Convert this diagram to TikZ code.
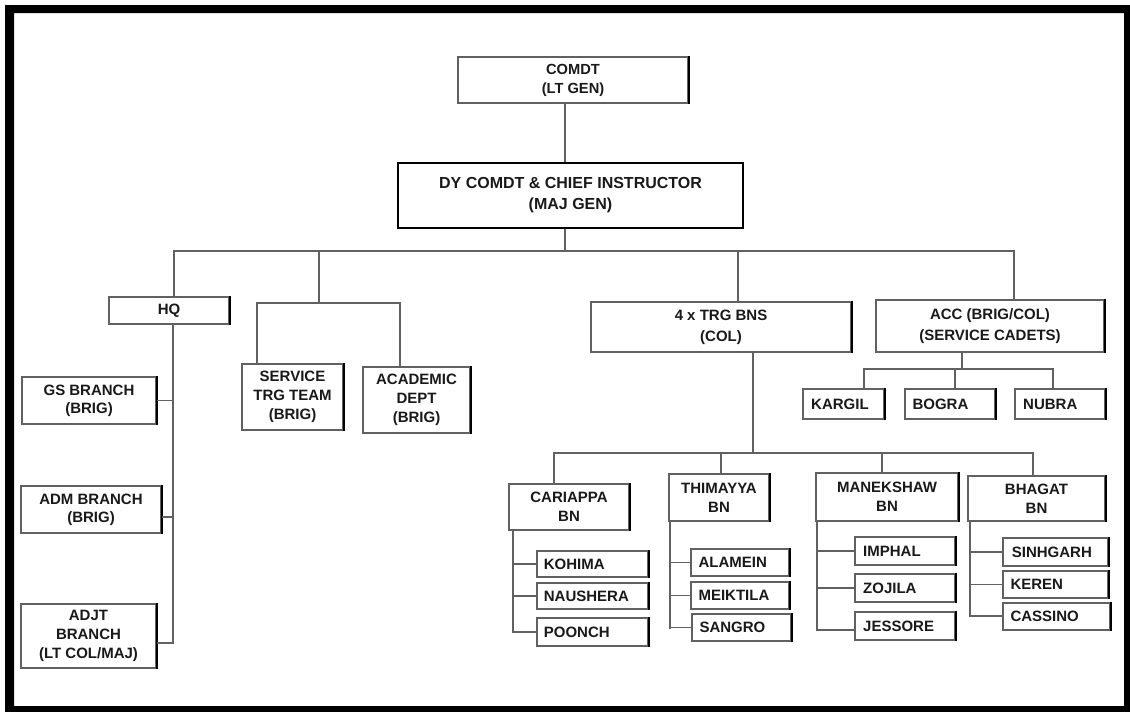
\documentclass[tikz,border=0pt]{standalone}
\usepackage{fontspec}
\setmainfont{Liberation Sans}
\usetikzlibrary{fit}
\begin{document}
\begin{tikzpicture}[x=0.75pt,y=-0.75pt,
  box/.style={draw=black!62, line width=1.1pt, inner sep=0pt},
  bigbox/.style={box, draw=black, line width=1.7pt},
  txt/.style={inner sep=0pt, align=center, text=black!90,
    font=\fontsize{11.25}{14.25}\selectfont\bfseries},
  widetxt/.style={txt, font=\fontsize{11.25}{15.75}\selectfont\bfseries},
  bigtxt/.style={txt, font=\fontsize{12}{15.75}\selectfont\bfseries},
  toptxt/.style={txt, font=\fontsize{11}{14.25}\selectfont\bfseries},
  tighttxt/.style={txt, font=\fontsize{11.25}{13.5}\selectfont\bfseries},
  lbl/.style={inner sep=0pt, anchor=west, text=black!90, font=\fontsize{11.25}{14.25}\selectfont\bfseries},
  conn/.style={draw=black!62, line width=1.1pt},
  shadeline/.style={draw=black, line width=1.7pt}]
\useasboundingbox (0,0) rectangle (1130,711);
% outer frame
\fill[black, even odd rule] (5,5) rectangle (1140,720) (14,13) rectangle (1124,706);

% boxes
\node[box, fit={(458,57) (688,103)}] (comdt) {};
\node[bigbox, fit={(398,163) (743,228)}] (dy) {};
\node[box, fit={(109,297) (229,324)}] (hq) {};
\node[box, fit={(22,377) (156,424)}] (gs) {};
\node[box, fit={(21,486) (161,533)}] (adm) {};
\node[box, fit={(21,604) (156,668)}] (adjt) {};
\node[box, fit={(242,364) (343,430)}] (stt) {};
\node[box, fit={(363,367) (470,433)}] (acad) {};
\node[box, fit={(591,302) (851,352)}] (tbn) {};
\node[box, fit={(876,300) (1104,352)}] (acc) {};
\node[box, fit={(803,389) (884,419)}] (kar) {};
\node[box, fit={(905,389) (995,419)}] (bog) {};
\node[box, fit={(1015,389) (1105,419)}] (nub) {};
\node[box, fit={(509,484) (629,530)}] (car) {};
\node[box, fit={(669,474) (769,521)}] (thi) {};
\node[box, fit={(816,473) (958,521)}] (man) {};
\node[box, fit={(968,476) (1105,521)}] (bha) {};
\node[box, fit={(537,551) (648,577)}] (koh) {};
\node[box, fit={(537,583) (648,609)}] (nau) {};
\node[box, fit={(537,618) (648,646)}] (poo) {};
\node[box, fit={(691,549) (789,576)}] (ala) {};
\node[box, fit={(691,582) (789,609)}] (mei) {};
\node[box, fit={(692,614) (791,641)}] (san) {};
\node[box, fit={(855,537) (955,565)}] (imp) {};
\node[box, fit={(855,574) (955,602)}] (zoj) {};
\node[box, fit={(855,612) (955,640)}] (jes) {};
\node[box, fit={(1003,538) (1108,566)}] (sin) {};
\node[box, fit={(1003,571) (1108,598)}] (ker) {};
\node[box, fit={(1003,603) (1110,630)}] (cas) {};

% shadow on right edges
\foreach \n in {comdt,hq,gs,adm,adjt,stt,acad,tbn,acc,kar,bog,nub,car,thi,man,bha,koh,nau,poo,ala,mei,san,imp,zoj,jes,sin,ker,cas}
  \draw[shadeline] (\n.north east) -- (\n.south east);

% centred texts
\node[toptxt] (comdtT) at (comdt.center) {COMDT\\(LT GEN)};
\node[bigtxt] (dyT) at (dy.center) {DY COMDT \& CHIEF INSTRUCTOR\\(MAJ GEN)};
\node[txt] (hqT) at (hq.center) {HQ};
\node[tighttxt] (gsT) at (gs.center) {GS BRANCH\\(BRIG)};
\node[tighttxt] (admT) at (adm.center) {ADM BRANCH\\(BRIG)};
\node[txt] (adjtT) at (adjt.center) {ADJT\\BRANCH\\(LT COL/MAJ)};
\node[txt] (sttT) at (stt.center) {SERVICE\\TRG TEAM\\(BRIG)};
\node[txt] (acadT) at (acad.center) {ACADEMIC\\DEPT\\(BRIG)};
\node[widetxt] (tbnT) at (tbn.center) {4 x TRG BNS\\(COL)};
\node[widetxt] (accT) at (acc.center) {ACC (BRIG/COL)\\(SERVICE CADETS)};
\node[txt] (carT) at (car.center) {CARIAPPA\\BN};
\node[txt] (thiT) at (thi.center) {THIMAYYA\\BN};
\node[txt] (manT) at (man.center) {MANEKSHAW\\BN};
\node[txt] (bhaT) at (bha.center) {BHAGAT\\BN};

% left-aligned texts
\node[lbl] (karT) at ([xshift=6.5pt]kar.west) {KARGIL};
\node[lbl] (bogT) at ([xshift=6pt]bog.west) {BOGRA};
\node[lbl] (nubT) at ([xshift=6.5pt]nub.west) {NUBRA};
\node[lbl] (kohT) at ([xshift=5.5pt]koh.west) {KOHIMA};
\node[lbl] (nauT) at ([xshift=5.5pt]nau.west) {NAUSHERA};
\node[lbl] (pooT) at ([xshift=5.5pt]poo.west) {POONCH};
\node[lbl] (alaT) at ([xshift=6pt]ala.west) {ALAMEIN};
\node[lbl] (meiT) at ([xshift=6pt]mei.west) {MEIKTILA};
\node[lbl] (sanT) at ([xshift=6pt]san.west) {SANGRO};
\node[lbl] (impT) at ([xshift=6.5pt]imp.west) {IMPHAL};
\node[lbl] (zojT) at ([xshift=6.5pt]zoj.west) {ZOJILA};
\node[lbl] (jesT) at ([xshift=6.5pt]jes.west) {JESSORE};
\node[lbl] (sinT) at ([xshift=7pt]sin.west) {SINHGARH};
\node[lbl] (kerT) at ([xshift=6pt]ker.west) {KEREN};
\node[lbl] (casT) at ([xshift=6pt]cas.west) {CASSINO};

% junction coordinates
\coordinate (xTop) at (565,251);
\coordinate (jHQ) at (174,251);
\coordinate (jST) at (319,251);
\coordinate (jTB) at (738,251);
\coordinate (jACC) at (1014,251);
\coordinate (jSA) at (319,303);
\coordinate (jS) at (257,303);
\coordinate (jA) at (400,303);
\coordinate (jH) at (173,643);
\coordinate (yADM) at (0,517);
\coordinate (jC) at (962,369);
\coordinate (jK) at (864,369);
\coordinate (jB) at (955,369);
\coordinate (jN) at (1053,369);
\coordinate (jT) at (753,453);
\coordinate (jCar) at (554,453);
\coordinate (jThi) at (721,453);
\coordinate (jMan) at (882,453);
\coordinate (jBha) at (1033,453);
\coordinate (vCar) at (513,632);
\coordinate (vThi) at (670,629);
\coordinate (vMan) at (817,630);
\coordinate (vBha) at (970,616);

% connectors
\draw[conn] (xTop |- comdt.south) -- (xTop |- dy.north);
\draw[conn] (xTop |- dy.south) -- (xTop);
\draw[conn] (jHQ |- hq.north) -- (jHQ) -- (jACC) -- (jACC |- acc.north);
\draw[conn] (jTB) -- (jTB |- tbn.north);
\draw[conn] (jST) -- (jSA);
\draw[conn] (jS |- stt.north) -- (jS) -- (jA) -- (jA |- acad.north);
% HQ branches
\draw[conn] (jH |- hq.south) -- (jH) -- (jH -| adjt.east);
\draw[conn] (gs.east) -- (gs.east -| jH);
\draw[conn] (adm.east |- yADM) -- (jH |- yADM);
% ACC
\draw[conn] (jC |- acc.south) -- (jC);
\draw[conn] (jK |- kar.north) -- (jK) -- (jN) -- (jN |- nub.north);
\draw[conn] (jB) -- (jB |- bog.north);
% TRG BNs
\draw[conn] (jT |- tbn.south) -- (jT);
\draw[conn] (jCar |- car.north) -- (jCar) -- (jBha) -- (jBha |- bha.north);
\draw[conn] (jThi) -- (jThi |- thi.north);
\draw[conn] (jMan) -- (jMan |- man.north);
% companies
\draw[conn] (vCar |- car.south) -- (vCar) -- (vCar -| poo.west);
\draw[conn] (koh.west) -- (koh.west -| vCar);
\draw[conn] (nau.west) -- (nau.west -| vCar);
\draw[conn] (vThi |- thi.south) -- (vThi);
\draw[conn] (ala.west) -- (ala.west -| vThi);
\draw[conn] (mei.west) -- (mei.west -| vThi);
\draw[conn] (san.west) -- (san.west -| vThi);
\draw[conn] (vMan |- man.south) -- (vMan) -- (vMan -| jes.west);
\draw[conn] (imp.west) -- (imp.west -| vMan);
\draw[conn] (zoj.west) -- (zoj.west -| vMan);
\draw[conn] (vBha |- bha.south) -- (vBha) -- (vBha -| cas.west);
\draw[conn] (sin.west) -- (sin.west -| vBha);
\draw[conn] (ker.west) -- (ker.west -| vBha);
\end{tikzpicture}
\end{document}
